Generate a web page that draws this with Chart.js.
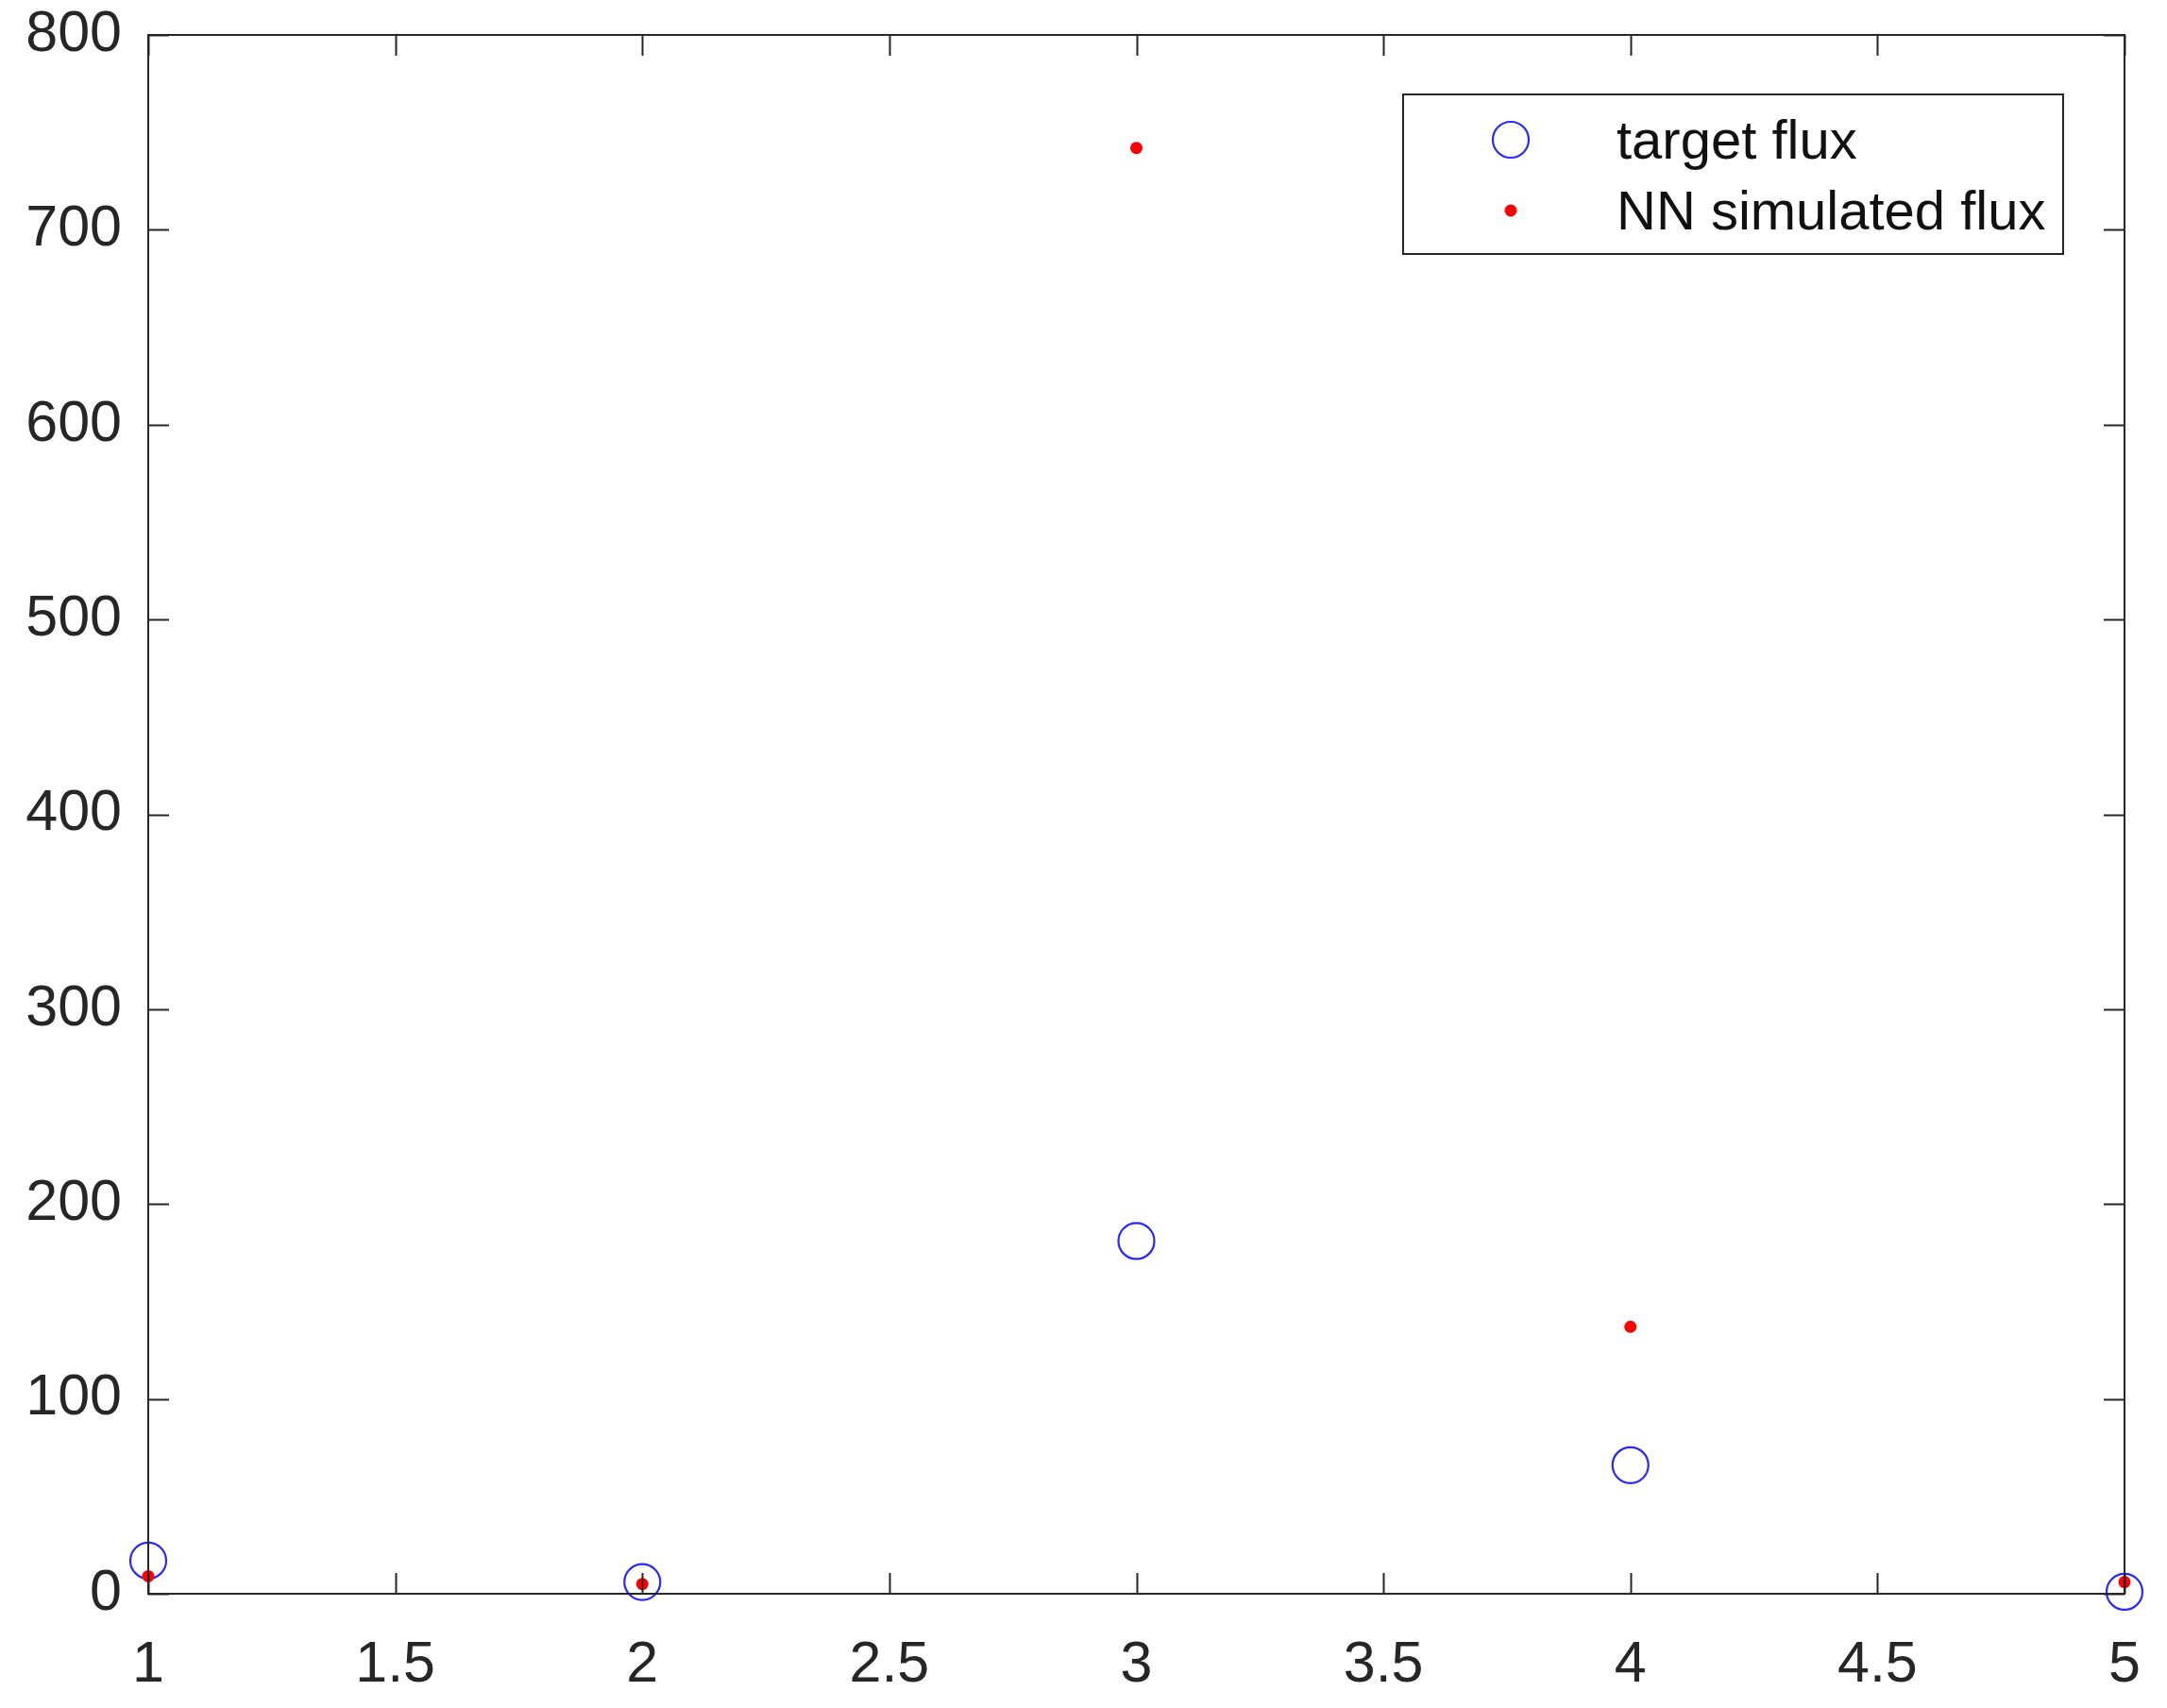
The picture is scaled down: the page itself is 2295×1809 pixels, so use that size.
<!DOCTYPE html>
<html>
<head>
<meta charset="utf-8">
<script src="https://cdn.jsdelivr.net/npm/chart.js@4"></script>
<style>
  html, body { margin: 0; padding: 0; background: #fff; }
</style>
</head>
<body>
<canvas id="myChart" width="2295" height="1809"></canvas>
<script>
// Data
const sampleIndex = [1, 2, 3, 4, 5];
const targetFlux = [17, 6, 181, 66, 1];      // blue circles
const simulatedFlux = [9, 5, 742, 137, 6];   // red dots
const seriesNames = ['target flux', 'NN simulated flux'];
const xTicks = [1, 1.5, 2, 2.5, 3, 3.5, 4, 4.5, 5];
const yTicks = [0, 100, 200, 300, 400, 500, 600, 700, 800];

const axisColor = '#262626';
const fontFamily = '"Liberation Sans", Arial, sans-serif';

// MATLAB style box with inward ticks on all four sides
const boxTicks = {
  id: 'boxTicks',
  afterDraw(chart) {
    const { ctx, chartArea: a, scales } = chart;
    const len = 22;
    ctx.save();
    ctx.strokeStyle = axisColor;
    ctx.lineWidth = 2;
    ctx.strokeRect(a.left, a.top, a.right - a.left, a.bottom - a.top);
    ctx.beginPath();
    xTicks.forEach(v => {
      const px = Math.round(scales.x.getPixelForValue(v)) + 0.5;
      ctx.moveTo(px, a.bottom); ctx.lineTo(px, a.bottom - len);
      ctx.moveTo(px, a.top); ctx.lineTo(px, a.top + len);
    });
    yTicks.forEach(v => {
      const py = Math.round(scales.y.getPixelForValue(v)) + 0.5;
      ctx.moveTo(a.left, py); ctx.lineTo(a.left + len, py);
      ctx.moveTo(a.right, py); ctx.lineTo(a.right - len, py);
    });
    ctx.stroke();
    ctx.restore();
  }
};

// legend box drawn inside the plot, top right
const boxLegend = {
  id: 'boxLegend',
  afterDraw(chart) {
    const { ctx, chartArea: a } = chart;
    const w = 699, h = 169;
    const x = a.right - 65 - w, y = a.top + 63;
    ctx.save();
    ctx.fillStyle = '#fff';
    ctx.fillRect(x, y, w, h);
    ctx.strokeStyle = axisColor;
    ctx.lineWidth = 2;
    ctx.strokeRect(x, y, w, h);
    const rows = [y + 48, y + 123];
    chart.data.datasets.forEach((ds, i) => {
      const cy = rows[i];
      ctx.beginPath();
      ctx.arc(x + 114, cy, ds.pointRadius, 0, Math.PI * 2);
      if (ds.pointBorderWidth > 0) {
        ctx.strokeStyle = ds.pointBorderColor;
        ctx.lineWidth = ds.pointBorderWidth;
        ctx.stroke();
      } else {
        ctx.fillStyle = ds.pointBackgroundColor;
        ctx.fill();
      }
      ctx.fillStyle = '#111';
      ctx.font = '58px ' + fontFamily;
      ctx.textBaseline = 'middle';
      ctx.fillText(ds.label, x + 226, cy + 4);
    });
    ctx.restore();
  }
};

const data = {
  datasets: [
    {
      label: seriesNames[0],
      data: sampleIndex.map((x, i) => ({ x: x, y: targetFlux[i] })),
      pointRadius: 19,
      pointBorderWidth: 2.2,
      pointBorderColor: 'rgb(40, 40, 255)',
      pointBackgroundColor: 'rgba(0,0,0,0)',
      order: 2,
      clip: false
    },
    {
      label: seriesNames[1],
      data: sampleIndex.map((x, i) => ({ x: x, y: simulatedFlux[i] })),
      pointRadius: 6.5,
      pointBorderWidth: 0,
      pointBorderColor: 'rgb(255, 0, 0)',
      pointBackgroundColor: 'rgb(255, 0, 0)',
      order: 1,
      clip: false
    }
  ]
};

const config = {
  type: 'scatter',
  data: data,
  options: {
    responsive: false,
    animation: false,
    devicePixelRatio: 1,
    layout: { padding: { top: 37, right: 45, left: 0, bottom: 0 } },
    plugins: {
      legend: { display: false },
      tooltip: { enabled: false }
    },
    scales: {
      x: {
        type: 'linear',
        min: 1,
        max: 5,
        afterBuildTicks: s => { s.ticks = xTicks.map(v => ({ value: v })); },
        afterFit: s => { s.height = 121; s.paddingLeft = 0; s.paddingRight = 0; },
        grid: { drawOnChartArea: false, drawTicks: false },
        border: { display: false },
        ticks: {
          autoSkip: false,
          maxRotation: 0,
          padding: 40,
          color: axisColor,
          font: { family: fontFamily, size: 61 },
          callback: v => String(v)
        }
      },
      y: {
        min: 0,
        max: 800,
        afterBuildTicks: s => { s.ticks = yTicks.map(v => ({ value: v })); },
        afterFit: s => { s.width = 157; s.paddingTop = 0; s.paddingBottom = 0; },
        grid: { drawOnChartArea: false, drawTicks: false },
        border: { display: false },
        ticks: {
          padding: 28,
          color: axisColor,
          font: { family: fontFamily, size: 61 },
          callback: v => String(v)
        }
      }
    }
  },
  plugins: [boxTicks, boxLegend]
};

var myChart = new Chart(document.getElementById('myChart'), config);
</script>
</body>
</html>
